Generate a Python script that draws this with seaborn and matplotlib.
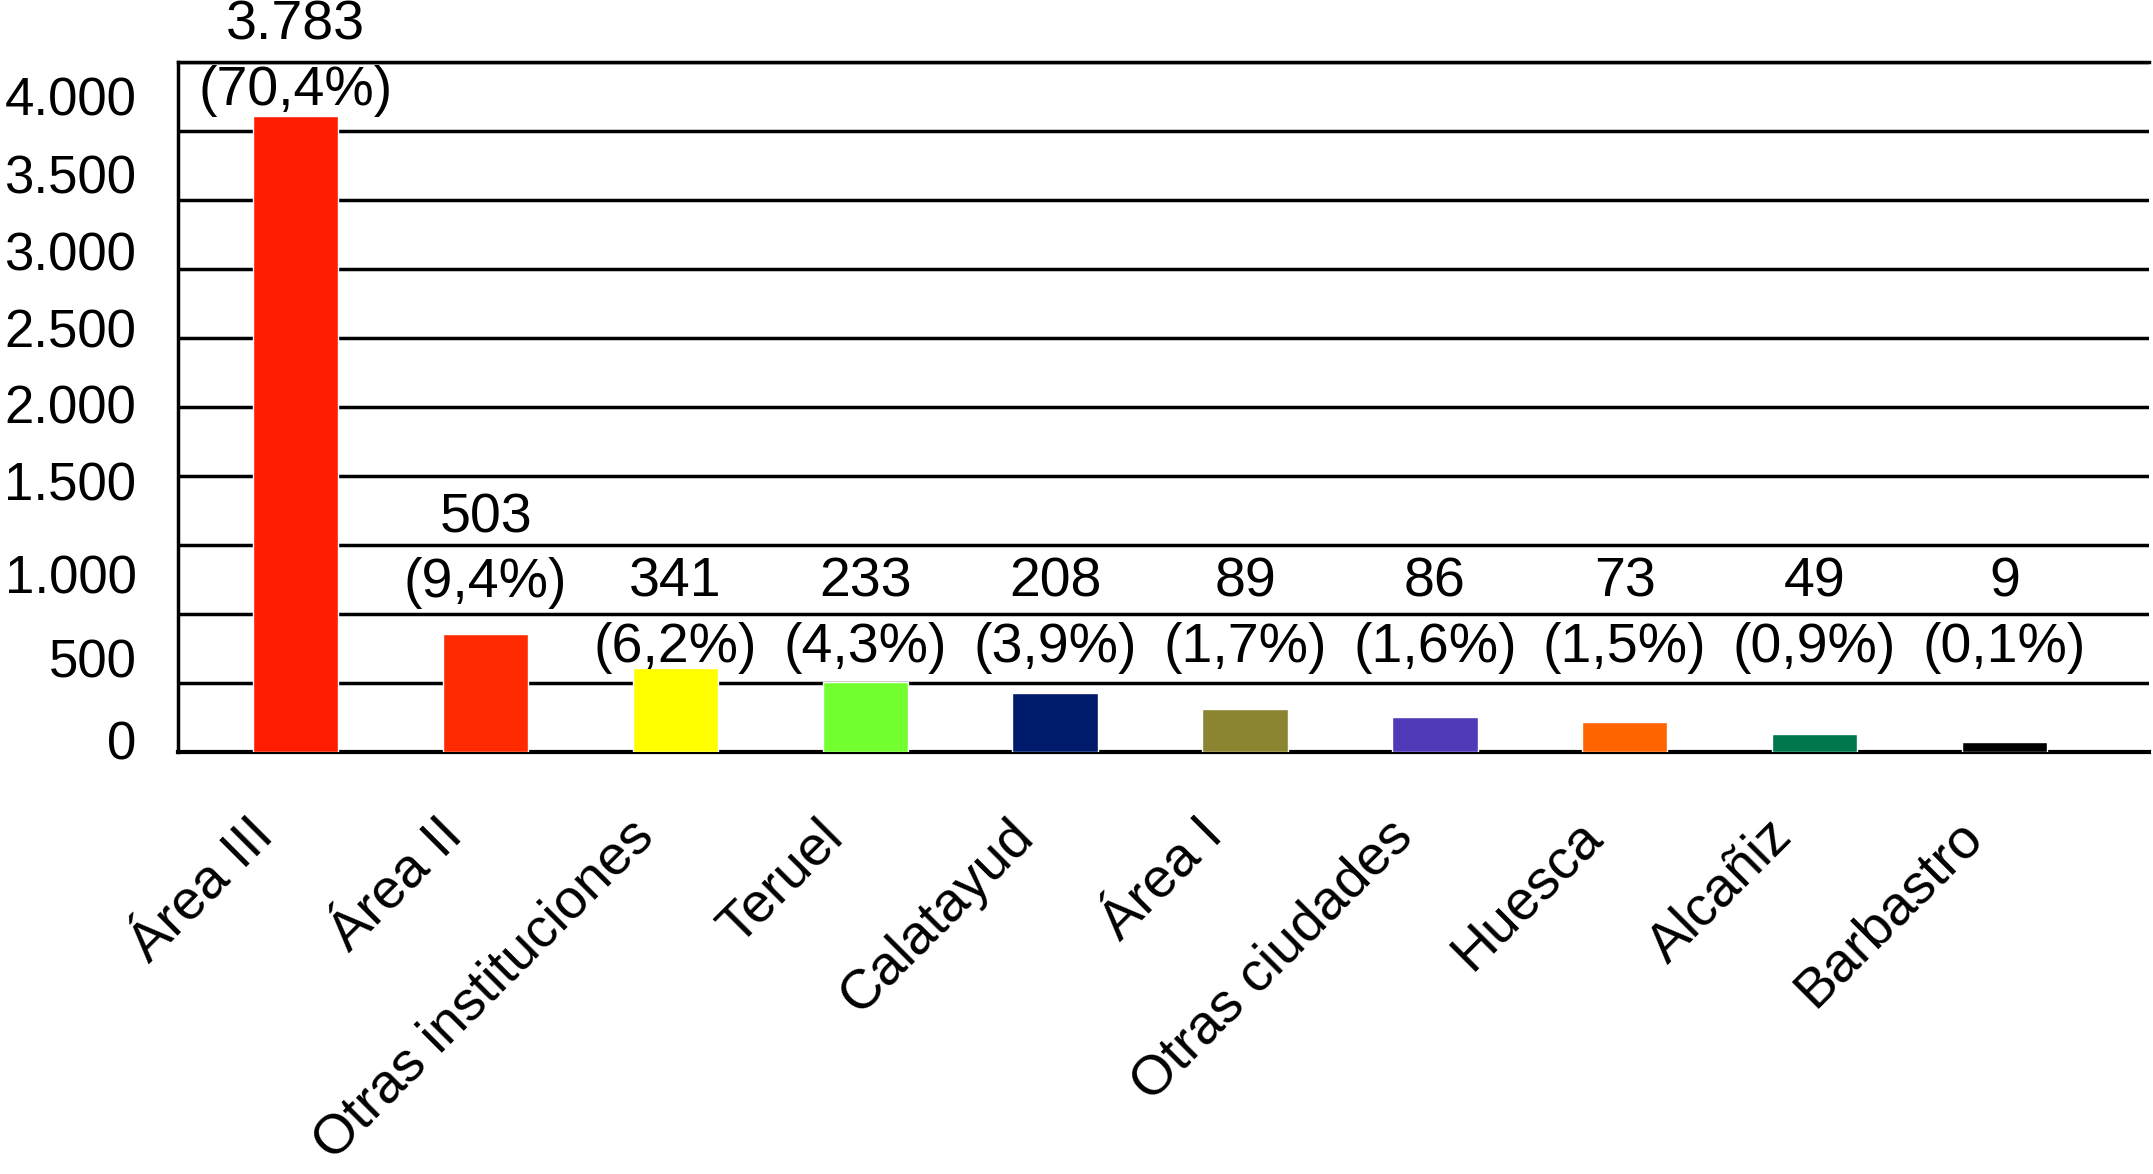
import numpy as np
import pandas as pd
import seaborn as sns
import matplotlib.pyplot as plt
import matplotlib.transforms as mtransforms

# categorias y valores (etiquetas)
categorias = ['Área III', 'Área II', 'Otras instituciones', 'Teruel', 'Calatayud',
              'Área I', 'Otras ciudades', 'Huesca', 'Alcañiz', 'Barbastro']
valores = ['3.783', '503', '341', '233', '208', '89', '86', '73', '49', '9']
porcentajes = ['(70,4%)', '(9,4%)', '(6,2%)', '(4,3%)', '(3,9%)',
               '(1,7%)', '(1,6%)', '(1,5%)', '(0,9%)', '(0,1%)']
# altura dibujada de cada barra en la escala del eje (no coincide con el valor)
alturas = [4610, 855, 610, 505, 430, 310, 250, 215, 130, 70]
colores = ['#FF1C00', '#FF2A00', '#FFFF00', '#73FF2F', '#001A6B',
           '#8B8430', '#503AB8', '#FF6400', '#00774A', '#000000']

# etiquetas del eje y (van desplazadas respecto a las lineas)
ytick_labels = ['0', '500', '1.000', '1.500', '2.000', '2.500', '3.000', '3.500', '4.000']
ytick_pos = [90, 680, 1290, 1965, 2520, 3075, 3630, 4190, 4750]

df = pd.DataFrame({'cat': categorias, 'altura': alturas})

sns.set_style('white')
plt.rcParams['font.family'] = ['Liberation Sans', 'DejaVu Sans']
plt.rcParams['text.color'] = 'black'
plt.rcParams['xtick.color'] = 'black'
plt.rcParams['ytick.color'] = 'black'

fig = plt.figure(figsize=(21.53, 11.74), dpi=100)
ax = fig.add_axes([0.0827, 0.3595, 0.9153, 0.5877])

sns.barplot(data=df, x='cat', y='altura', hue='cat', palette=colores,
            legend=False, width=0.45, saturation=1, ax=ax, zorder=3)

ax.set_ylim(0, 5000)
ax.set_xlim(-0.62, 9.76)
ax.set_xlabel('')
ax.set_ylabel('')

# lineas horizontales cada 500
ax.set_yticks(np.arange(0, 5001, 500), minor=True)
ax.grid(True, which='minor', axis='y', color='black', lw=2.5, zorder=1)
ax.grid(False, which='major')
ax.set_yticks(ytick_pos, ytick_labels)
ax.tick_params(axis='y', which='both', length=0, pad=30, labelsize=38,
               labelcolor='black')
ax.tick_params(axis='x', length=0, pad=55, labelsize=40, labelcolor='black')

ax.spines['right'].set_visible(False)
for s in ['left', 'top', 'bottom']:
    ax.spines[s].set_color('black')
    ax.spines[s].set_linewidth(2.5)
ax.spines['bottom'].set_linewidth(3)

offset = mtransforms.ScaledTranslation(-30 / 100, 0, fig.dpi_scale_trans)
for lab in ax.get_xticklabels():
    lab.set_rotation(45)
    lab.set_ha('right')
    lab.set_va('center')
    lab.set_rotation_mode('anchor')
    lab.set_transform(lab.get_transform() + offset)

# etiquetas de valor y porcentaje sobre cada barra
for i, (h, v, p) in enumerate(zip(alturas, valores, porcentajes)):
    y = 0.95 * h + 410 if h > 800 else 755
    ax.annotate(p, (i, y), ha='center', va='center', fontsize=40,
                color='black', annotation_clip=False)
    ax.annotate(v, (i, y), xytext=(0, 47), textcoords='offset points',
                ha='center', va='center', fontsize=40, color='black',
                annotation_clip=False)

fig.savefig('out.png', dpi=100)
